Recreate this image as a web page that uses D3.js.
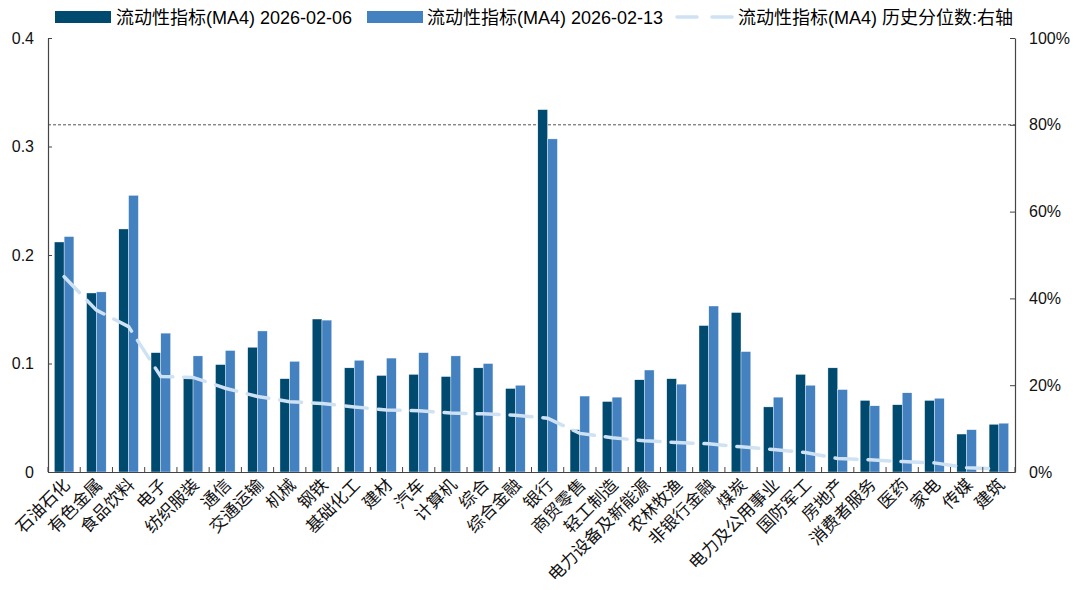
<!DOCTYPE html>
<html><head><meta charset="utf-8">
<script src="https://cdn.jsdelivr.net/npm/d3@7"></script>
<style>
body{margin:0;background:#fff;}
svg text{font-family:"Liberation Sans",Arial,sans-serif;}
.cjk{font-family:"Liberation Sans","Noto Sans CJK SC",sans-serif;}
</style></head>
<body><svg id="c" width="1084" height="590"></svg>
<script>
const categories = ["石油石化","有色金属","食品饮料","电子","纺织服装","通信","交通运输","机械","钢铁","基础化工","建材","汽车","计算机","综合","综合金融","银行","商贸零售","轻工制造","电力设备及新能源","农林牧渔","非银行金融","煤炭","电力及公用事业","国防军工","房地产","消费者服务","医药","家电","传媒","建筑"];
const seriesNames = ["流动性指标(MA4) 2026-02-06","流动性指标(MA4) 2026-02-13","流动性指标(MA4) 历史分位数:右轴"];
const values0206 = [0.212,0.165,0.224,0.110,0.088,0.099,0.115,0.086,0.141,0.096,0.089,0.090,0.088,0.096,0.077,0.334,0.039,0.065,0.085,0.086,0.135,0.147,0.060,0.090,0.096,0.066,0.062,0.066,0.035,0.044];
const values0213 = [0.217,0.166,0.255,0.128,0.107,0.112,0.130,0.102,0.140,0.103,0.105,0.110,0.107,0.100,0.080,0.307,0.070,0.069,0.094,0.081,0.153,0.111,0.069,0.080,0.076,0.061,0.073,0.068,0.039,0.045];
const percentile = [0.450,0.373,0.335,0.220,0.218,0.193,0.174,0.162,0.158,0.150,0.143,0.141,0.136,0.134,0.131,0.124,0.089,0.079,0.072,0.068,0.065,0.058,0.052,0.045,0.031,0.028,0.024,0.021,0.010,0.007];
const leftTicks = [0,0.1,0.2,0.3,0.4];
const rightTicks = [0,0.2,0.4,0.6,0.8,1.0];
const refLine = 0.8;

const svg = d3.select("#c");
const L=48,R=1015,T=38,B=472;
const x = d3.scaleBand().domain(categories).range([L,R]).paddingInner(0).paddingOuter(0);
const y = d3.scaleLinear().domain([0,0.4]).range([B,T]);
const y2 = d3.scaleLinear().domain([0,1]).range([B,T]);
const c1="#004a70", c2="#4481c0", c3="#cfe2f3";
const bw = 9.8;

// reference line at 80%
svg.append("line").attr("x1",L).attr("x2",R).attr("y1",y2(refLine)).attr("y2",y2(refLine))
  .attr("stroke","#555").attr("stroke-width",1).attr("stroke-dasharray","3,2");

const g = svg.append("g");
g.selectAll(".b1").data(categories).join("rect")
  .attr("x",d=>x(d)+x.bandwidth()/2-bw).attr("width",bw)
  .attr("y",(d,i)=>y(values0206[i])).attr("height",(d,i)=>B-y(values0206[i]))
  .attr("fill",c1).attr("stroke","#fff").attr("stroke-width",0.4);
g.selectAll(".b2").data(categories).join("rect")
  .attr("x",d=>x(d)+x.bandwidth()/2).attr("width",bw)
  .attr("y",(d,i)=>y(values0213[i])).attr("height",(d,i)=>B-y(values0213[i]))
  .attr("fill",c2).attr("stroke","#fff").attr("stroke-width",0.4);

const line = d3.line().x((d,i)=>x(categories[i])+x.bandwidth()/2).y(d=>y2(d));
svg.append("path").datum(percentile).attr("d",line).attr("fill","none")
  .attr("stroke",c3).attr("stroke-width",3.5).attr("stroke-dasharray","22,11").attr("stroke-linecap","round");

// axes
const axL = svg.append("g").attr("transform",`translate(${L},0)`)
  .call(d3.axisLeft(y).tickValues(leftTicks).tickSizeInner(-4).tickSizeOuter(0).tickPadding(14).tickFormat(d=>d===0?"0":d3.format(".1f")(d)));
const axR = svg.append("g").attr("transform",`translate(${R},0)`)
  .call(d3.axisRight(y2).tickValues(rightTicks).tickSizeInner(-5).tickSizeOuter(0).tickPadding(14).tickFormat(d3.format(".0%")));
const axB = svg.append("g").attr("transform",`translate(0,${B})`)
  .call(d3.axisBottom(x).tickSizeInner(0).tickSizeOuter(0).tickFormat(""));
[axL,axR,axB].forEach(a=>{a.select(".domain").attr("stroke","#444").attr("stroke-width",1.2);
  a.selectAll(".tick line").attr("stroke","#444");
  a.selectAll("text").attr("font-size",16).attr("fill","#111").attr("font-family","Liberation Sans, Arial, sans-serif");});
// band boundary ticks
const bounds = categories.map(d=>x(d)).concat([R]);
svg.append("g").selectAll("line").data(bounds).join("line")
  .attr("x1",d=>d).attr("x2",d=>d).attr("y1",B).attr("y2",B-5).attr("stroke","#444");

// category labels
svg.append("g").selectAll("text").data(categories).join("text").attr("class","cjk")
  .attr("transform",d=>`translate(${x(d)+x.bandwidth()/2+7},${B+14}) rotate(-45)`)
  .attr("text-anchor","end").attr("font-size",17).attr("fill","#111")
  .style("font-family","'Noto Sans CJK SC',sans-serif").text(d=>d);

// legend
const lg = svg.append("g").attr("font-size",18);
lg.append("rect").attr("x",55).attr("y",11).attr("width",56).attr("height",12).attr("fill",c1);
lg.append("text").attr("x",116).attr("y",24).attr("class","cjk").text(seriesNames[0]);
lg.append("rect").attr("x",367).attr("y",11).attr("width",56).attr("height",12).attr("fill",c2);
lg.append("text").attr("x",427).attr("y",24).attr("class","cjk").text(seriesNames[1]);
lg.append("line").attr("x1",677).attr("x2",732).attr("y1",17).attr("y2",17).attr("stroke",c3)
  .attr("stroke-width",3.5).attr("stroke-dasharray","20,15").attr("stroke-linecap","round");
lg.append("text").attr("x",738).attr("y",24).attr("class","cjk").text(seriesNames[2]);
</script></body></html>
